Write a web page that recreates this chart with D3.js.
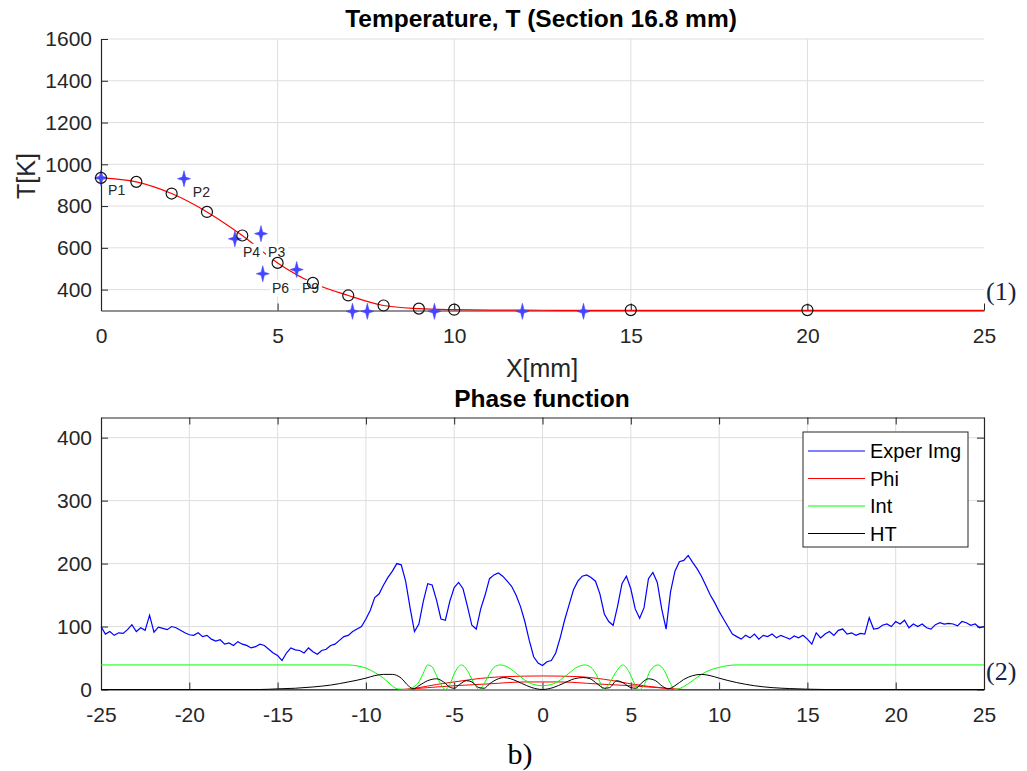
<!DOCTYPE html>
<html>
<head>
<meta charset="utf-8">
<script src="https://cdn.jsdelivr.net/npm/d3@7"></script>
<style>
body { margin: 0; background: #fff; }
svg text { font-family: "Liberation Sans", Arial, sans-serif; }
</style>
</head>
<body>
<div id="app"></div>
<script>
// ---- top plot data (temperature profile) ----
const circleX = [0, 1, 2, 3, 4, 5, 6, 7, 8, 9, 10, 15, 20]
const circleT = [935, 916, 860, 772, 659, 528, 432, 372, 324, 309, 304, 302, 302]

const fitX = [0, 1, 2, 3, 4, 5, 6, 7, 8, 9, 10, 11, 12, 13, 15, 20, 25]
const fitT = [935, 916, 860, 772, 659, 528, 432, 372, 324, 309, 304, 302, 301.5, 301, 301, 301, 300.5]

const starX = [0, 2.35, 4.53, 3.79, 5.54, 4.58, 7.12, 7.54, 9.44, 11.93, 13.66]
const starT = [935, 931, 668, 643, 496, 476, 296, 296, 296, 296, 296]

// point annotations (data units)
const labelName = ['P1', 'P2', 'P3', 'P4', 'P6', 'P9']
const labelX = [0.2, 2.6, 4.73, 4.02, 4.84, 5.69]
const labelT = [854, 844, 557, 557, 384, 384]

const topXTicks = [0, 5, 10, 15, 20, 25]
const topYTicks = [400, 600, 800, 1000, 1200, 1400, 1600]

// ---- bottom plot data (phase function) ----
const imgStart = -25
const imgStep = 0.25
const experImg = [
    100, 88, 92, 86, 90, 89, 95, 103, 92, 98, 94, 118, 91, 99, 97, 95, 100, 98, 94, 90,
    87, 86, 90, 84, 86, 80, 77, 79, 72, 74, 70, 76, 72, 70, 66, 68, 72, 70, 64, 58,
    54, 46, 58, 66, 63, 62, 58, 66, 60, 56, 62, 64, 70, 72, 78, 84, 86, 92, 96, 100,
    112, 126, 146, 152, 166, 178, 188, 200, 198, 172, 130, 92, 104, 140, 168, 166, 142, 112, 110, 140,
    162, 170, 160, 132, 102, 96, 128, 150, 176, 182, 185, 180, 172, 164, 150, 132, 108, 78, 52, 42,
    38, 44, 46, 58, 82, 110, 134, 158, 172, 180, 182, 178, 172, 152, 120, 108, 102, 132, 168, 180,
    160, 128, 113, 130, 176, 186, 170, 128, 96, 155, 188, 203, 205, 213, 202, 192, 180, 165, 150, 138,
    124, 112, 100, 88, 84, 80, 86, 82, 88, 80, 86, 84, 88, 82, 86, 83, 80, 85, 82, 86,
    80, 72, 90, 82, 88, 92, 86, 94, 96, 88, 90, 86, 89, 88, 114, 96, 97, 102, 104, 100,
    108, 104, 110, 98, 104, 100, 104, 98, 96, 103, 106, 104, 105, 104, 101, 108, 106, 102, 104, 98,
    100
]

const phiX = [-25, -8, -7, -6, -5, -4, -3, -2, 0, 2, 3, 4, 5, 6, 7, 8, 25]
const phiV = [0, 0, 3, 8, 12, 16, 19, 20.5, 21.5, 20.5, 18, 14, 9, 5, 2, 0, 0]
const phi2X = [-25, -8, -6.5, -5, -3, -1, 0, 1, 3, 5, 6.5, 8, 25]
const phi2V = [0, 0, 3, 6, 9, 12, 12, 12, 9, 6, 3, 0, 0]

const intX = [-25, -12, -11, -10.5, -10, -9.5, -9, -8.6, -8.2, -7.6, -7.3, -7, -6.75, -6.5, -6.25, -6, -5.75, -5.5, -5.25, -5, -4.6, -4.25, -4, -3.75, -3.6, -3.25, -3, -2.75, -2.4, -2, -1.5, -1, -0.5, 0,
    0.5, 1, 1.5, 2, 2.4, 2.75, 3, 3.25, 3.45, 3.75, 4.1, 4.55, 4.9, 5.2, 5.5, 5.8, 6.1, 6.55, 6.9, 7.2, 7.5, 7.8, 8.2, 8.6, 9, 9.5, 10, 10.5, 11, 11.5, 25]
const intV = [39, 39, 39, 37.5, 34, 27, 18, 8, 1, 0, 4, 12, 26, 39, 36, 22, 8, 0, 8, 25, 39, 30, 16, 4, 0, 12, 25, 35, 39, 36, 26, 15, 8, 6,
    8, 15, 26, 36, 39, 35, 26, 12, 0, 8, 25, 39, 28, 10, 0, 10, 30, 39, 30, 12, 0, 2, 8, 16, 24, 31, 35, 38, 39, 39, 39]

const htX = [-25, -16, -15, -14, -13, -12, -11, -10, -9.5, -9, -8.5, -8, -7.6, -7.3, -7, -6.5, -6, -5.6, -5.2, -5, -4.7, -4.3, -4, -3.6, -3.3, -3, -2.5, -2.2, -1.8, -1.2, -0.6, 0,
    0.6, 1.2, 1.8, 2.3, 2.7, 3.1, 3.5, 3.8, 4.2, 4.6, 5, 5.3, 5.6, 6, 6.4, 6.8, 7.1, 7.5, 8, 8.5, 9, 9.5, 10, 11, 12, 13, 14, 15, 16, 25]
const htV = [0, 0, 1, 2, 4, 7, 12, 18, 22, 24, 24, 18, 6, 1, 6, 14, 17, 12, 3, 2, 8, 14, 12, 3, 2, 9, 17, 19, 17, 10, 3, 0,
    3, 10, 17, 19, 17, 9, 2, 3, 14, 10, 3, 2, 10, 17, 14, 5, 1, 6, 16, 22, 24, 22, 18, 11, 6, 3, 1.5, 0.5, 0, 0]

const botXTicks = [-25, -20, -15, -10, -5, 0, 5, 10, 15, 20, 25]
const botYTicks = [0, 100, 200, 300, 400]
const legendNames = ['Exper Img', 'Phi', 'Int', 'HT']
const legendColors = ['#0000ff', '#ff0000', '#00ff00', '#000000']

// ---- layout ----
const W = 1027, H = 771
const axisColor = '#262626'
const gridColor = '#dedede'
const plain = d => String(d)

const svg = d3.select('#app')
    .append('svg')
    .attr('width', W)
    .attr('height', H)

const x1 = d3.scaleLinear().domain([0, 25]).range([101, 984])
const y1 = d3.scaleLinear().domain([300, 1600]).range([310.5, 39])

const x2 = d3.scaleLinear().domain([-25, 25]).range([101, 984])
const y2 = d3.scaleLinear().domain([0, 432]).range([689.5, 417.5])

function styleAxis(g) {
    g.selectAll('path').attr('stroke', axisColor).attr('stroke-width', 1.2)
    g.selectAll('line').attr('stroke', axisColor)
    g.selectAll('text').attr('fill', axisColor).style('font-size', '21px')
}

// ===== top plot =====
const topPlot = svg.append('g')

// grid
topPlot.append('g')
    .selectAll('line')
    .data(topXTicks.filter(d => d > 0 && d < 25))
    .enter().append('line')
    .attr('x1', d => x1(d)).attr('x2', d => x1(d))
    .attr('y1', y1(1600)).attr('y2', y1(300))
    .attr('stroke', gridColor)
topPlot.append('g')
    .selectAll('line')
    .data(topYTicks)
    .enter().append('line')
    .attr('x1', x1(0)).attr('x2', x1(25))
    .attr('y1', d => y1(d)).attr('y2', d => y1(d))
    .attr('stroke', gridColor)

topPlot.append('g')
    .attr('transform', 'translate(0,' + y1(300) + ')')
    .call(d3.axisBottom(x1).tickValues(topXTicks).tickFormat(plain).tickSizeInner(-7).tickSizeOuter(0).tickPadding(18))
    .call(styleAxis)

topPlot.append('g')
    .attr('transform', 'translate(' + x1(0) + ',0)')
    .call(d3.axisLeft(y1).tickValues(topYTicks).tickFormat(plain).tickSizeInner(-7).tickSizeOuter(0).tickPadding(9))
    .call(styleAxis)

// fitted red curve
topPlot.append('path')
    .datum(fitX.map((x, i) => [x, fitT[i]]))
    .attr('d', d3.line().x(d => x1(d[0])).y(d => y1(d[1])).curve(d3.curveMonotoneX))
    .attr('fill', 'none')
    .attr('stroke', '#ff0000')
    .attr('stroke-width', 1.2)

// blue star markers
const starPath = 'M0,-8L1.6,-1.6L6.5,0L1.6,1.6L0,8L-1.6,1.6L-6.5,0L-1.6,-1.6Z'
topPlot.append('g')
    .selectAll('path')
    .data(starX.map((x, i) => ({x: x, t: starT[i]})))
    .enter().append('path')
    .attr('d', starPath)
    .attr('transform', d => 'translate(' + x1(d.x) + ',' + y1(d.t) + ')')
    .attr('fill', '#4545ff')
    .attr('stroke', '#4545ff')
    .attr('stroke-width', 0.6)

// point labels with white background
const labs = topPlot.append('g')
    .selectAll('g')
    .data(labelName.map((n, i) => ({name: n, x: labelX[i], t: labelT[i]})))
    .enter().append('g')
    .attr('transform', d => 'translate(' + x1(d.x) + ',' + y1(d.t) + ')')
labs.append('rect')
    .attr('x', -2).attr('y', -13)
    .attr('width', 22).attr('height', 16)
    .attr('fill', '#fff')
labs.append('text')
    .text(d => d.name)
    .style('font-size', '14px')
    .attr('fill', '#262626')

// black circles (drawn over the labels)
topPlot.append('g')
    .selectAll('circle')
    .data(circleX.map((x, i) => ({x: x, t: circleT[i]})))
    .enter().append('circle')
    .attr('cx', d => x1(d.x))
    .attr('cy', d => y1(d.t))
    .attr('r', 5.5)
    .attr('fill', 'none')
    .attr('stroke', '#111')
    .attr('stroke-width', 1.2)

topPlot.append('text')
    .attr('x', 541).attr('y', 27)
    .attr('text-anchor', 'middle')
    .style('font-size', '24.5px').style('font-weight', 'bold')
    .text('Temperature, T (Section 16.8 mm)')

topPlot.append('text')
    .attr('transform', 'translate(35,176) rotate(-90)')
    .attr('text-anchor', 'middle')
    .style('font-size', '25px')
    .attr('fill', axisColor)
    .text('T[K]')

topPlot.append('text')
    .attr('x', 542).attr('y', 377)
    .attr('text-anchor', 'middle')
    .style('font-size', '25px')
    .attr('fill', axisColor)
    .text('X[mm]')

// ===== bottom plot =====
const botPlot = svg.append('g')

botPlot.append('g')
    .selectAll('line')
    .data(botXTicks.filter(d => d > -25 && d < 25))
    .enter().append('line')
    .attr('x1', d => x2(d)).attr('x2', d => x2(d))
    .attr('y1', y2.range()[1]).attr('y2', y2.range()[0])
    .attr('stroke', gridColor)
botPlot.append('g')
    .selectAll('line')
    .data(botYTicks.filter(d => d > 0))
    .enter().append('line')
    .attr('x1', x2(-25)).attr('x2', x2(25))
    .attr('y1', d => y2(d)).attr('y2', d => y2(d))
    .attr('stroke', gridColor)

botPlot.append('g')
    .attr('transform', 'translate(0,' + y2(0) + ')')
    .call(d3.axisBottom(x2).tickValues(botXTicks).tickFormat(plain).tickSizeInner(-7).tickSizeOuter(0).tickPadding(18))
    .call(styleAxis)
botPlot.append('g')
    .attr('transform', 'translate(0,' + y2.range()[1] + ')')
    .call(d3.axisTop(x2).tickValues(botXTicks).tickSizeInner(-7).tickSizeOuter(0).tickFormat(''))
    .call(styleAxis)
botPlot.append('g')
    .attr('transform', 'translate(' + x2(-25) + ',0)')
    .call(d3.axisLeft(y2).tickValues(botYTicks).tickFormat(plain).tickSizeInner(-7).tickSizeOuter(0).tickPadding(9))
    .call(styleAxis)
botPlot.append('g')
    .attr('transform', 'translate(' + x2(25) + ',0)')
    .call(d3.axisRight(y2).tickValues(botYTicks).tickSizeInner(-7).tickSizeOuter(0).tickFormat(''))
    .call(styleAxis)

const line2 = d3.line().x(d => x2(d[0])).y(d => y2(d[1]))
const smooth2 = d3.line().x(d => x2(d[0])).y(d => y2(d[1])).curve(d3.curveMonotoneX)

const series = [
    {pts: experImg.map((v, i) => [imgStart + i * imgStep, v]), color: legendColors[0], w: 1.2, raw: true},
    {pts: phiX.map((x, i) => [x, phiV[i]]), color: legendColors[1], w: 1},
    {pts: phi2X.map((x, i) => [x, phi2V[i]]), color: legendColors[1], w: 1},
    {pts: intX.map((x, i) => [x, intV[i]]), color: legendColors[2], w: 1},
    {pts: htX.map((x, i) => [x, htV[i]]), color: legendColors[3], w: 1}
]

botPlot.append('g')
    .selectAll('path')
    .data(series)
    .enter().append('path')
    .attr('d', d => d.raw ? line2(d.pts) : smooth2(d.pts))
    .attr('fill', 'none')
    .attr('stroke', d => d.color)
    .attr('stroke-width', d => d.w)

// legend
const leg = botPlot.append('g').attr('transform', 'translate(803,432)')
leg.append('rect')
    .attr('width', 165).attr('height', 115)
    .attr('fill', '#fff')
    .attr('stroke', axisColor)
    .attr('stroke-width', 1)
const legItem = leg.selectAll('g')
    .data(legendNames)
    .enter().append('g')
    .attr('transform', (d, i) => 'translate(0,' + (19 + i * 27.5) + ')')
legItem.append('line')
    .attr('x1', 5).attr('x2', 62)
    .attr('stroke', (d, i) => legendColors[i])
    .attr('stroke-width', 1.2)
legItem.append('text')
    .attr('x', 67).attr('dy', '0.35em')
    .style('font-size', '20px')
    .attr('fill', '#000')
    .text(d => d)

botPlot.append('text')
    .attr('x', 542).attr('y', 407)
    .attr('text-anchor', 'middle')
    .style('font-size', '24.5px').style('font-weight', 'bold')
    .text('Phase function')

// side labels
svg.append('text')
    .attr('x', 986).attr('y', 300)
    .style('font-family', '"Liberation Serif", "Times New Roman", serif')
    .style('font-size', '26px')
    .attr('fill', '#14234a')
    .text('(1)')
svg.append('text')
    .attr('x', 986).attr('y', 680)
    .style('font-family', '"Liberation Serif", "Times New Roman", serif')
    .style('font-size', '26px')
    .attr('fill', '#14234a')
    .text('(2)')
svg.append('text')
    .attr('x', 520).attr('y', 764)
    .attr('text-anchor', 'middle')
    .style('font-family', '"Liberation Serif", "Times New Roman", serif')
    .style('font-size', '30px')
    .attr('fill', '#000')
    .text('b)')
</script>
</body>
</html>
